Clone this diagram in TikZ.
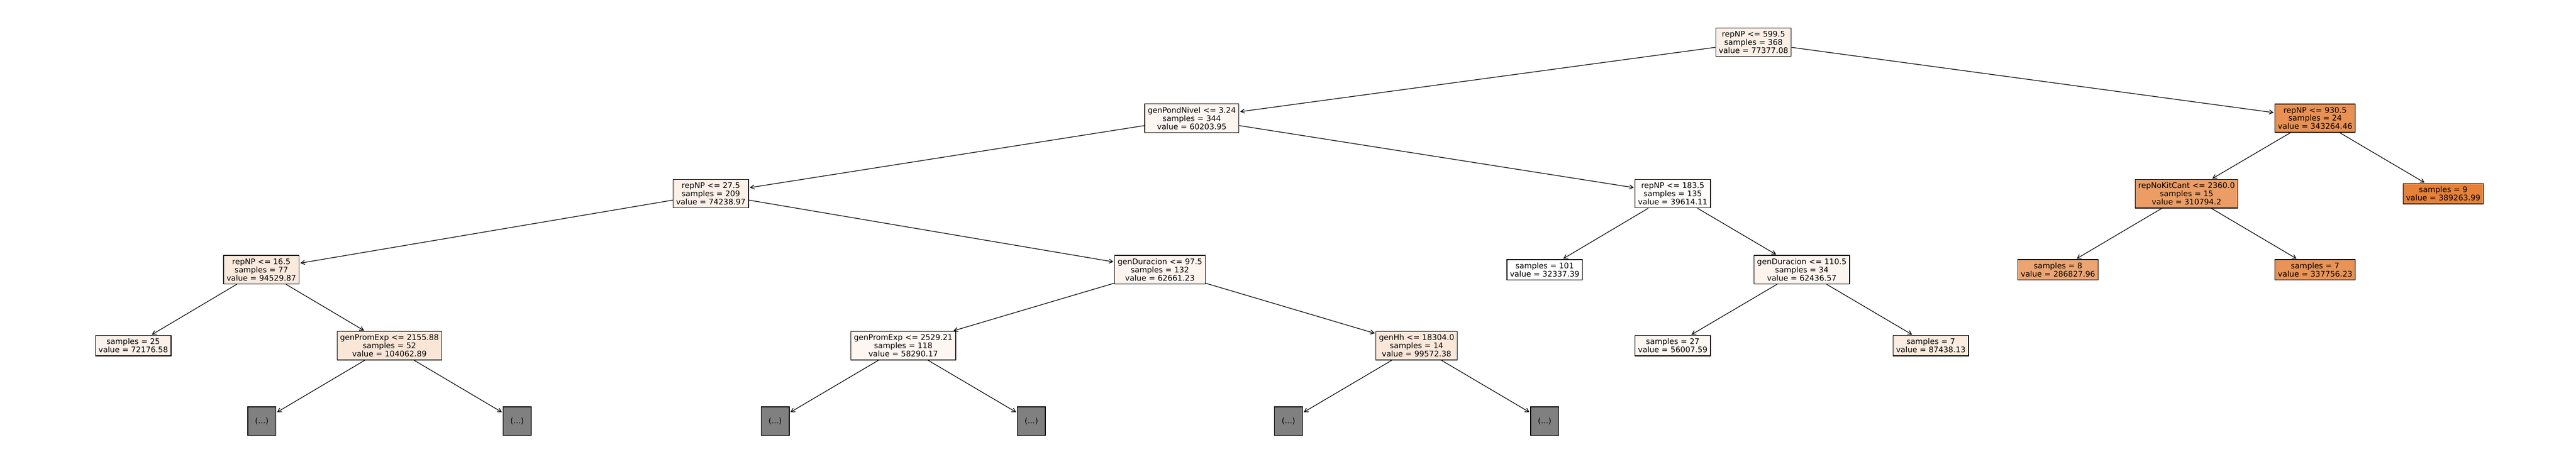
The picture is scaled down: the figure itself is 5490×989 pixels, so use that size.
\documentclass[tikz,border=0pt]{standalone}
\usepackage{fontspec}
\setmainfont{DejaVu Sans}
\usepackage{xcolor}
\usetikzlibrary{arrows.meta}

\begin{document}
\begin{tikzpicture}[x=0.5pt,y=0.5pt,yscale=-1,xscale=1,
  box/.style={draw, line width=0.75pt, align=center, inner xsep=3.2pt, inner ysep=3.3pt,
    font=\fontsize{8.25}{8.75}\selectfont},
  hidden/.style={draw, line width=0.75pt, fill={rgb, 255:red, 128; green, 128; blue, 128 },
    minimum width=30pt, minimum height=30.5pt, inner sep=0pt, font=\fontsize{8.25}{8.75}\selectfont},
  edge/.style={line width=0.7pt, -{Straight Barb[length=4pt,width=4.5pt]}, shorten >=1pt}]
\useasboundingbox (0,0) rectangle (5490,989);

% Text Node
\node [box, fill={rgb, 255:red, 252; green, 239; blue, 230 }] (root) at (3737,90) {repNP <= 599.5\\samples = 368\\value = 77377.08};
% Text Node
\node [box, fill={rgb, 255:red, 253; green, 245; blue, 240 }] (gpn) at (2540,252) {genPondNivel <= 3.24\\samples = 344\\value = 60203.95};
% Text Node
\node [box, fill={rgb, 255:red, 232; green, 145; blue, 83 }] (r930) at (4934,252) {repNP <= 930.5\\samples = 24\\value = 343264.46};
% Text Node
\node [box, fill={rgb, 255:red, 252; green, 240; blue, 232 }] (r275) at (1515,413) {repNP <= 27.5\\samples = 209\\value = 74238.97};
% Text Node
\node [box, fill={rgb, 255:red, 254; green, 252; blue, 251 }] (r1835) at (3565,413) {repNP <= 183.5\\samples = 135\\value = 39614.11};
% Text Node
\node [box, fill={rgb, 255:red, 235; green, 157; blue, 101 }] (rkit) at (4660,413) {repNoKitCant <= 2360.0\\samples = 15\\value = 310794.2};
% Text Node
\node [box, fill={rgb, 255:red, 229; green, 129; blue, 57 }] (lf9) at (5207,413) {samples = 9\\value = 389263.99};
% Text Node
\node [box, fill={rgb, 255:red, 250; green, 233; blue, 221 }] (r165) at (557,575) {repNP <= 16.5\\samples = 77\\value = 94529.87};
% Text Node
\node [box, fill={rgb, 255:red, 253; green, 244; blue, 238 }] (gd975) at (2472,575) {genDuracion <= 97.5\\samples = 132\\value = 62661.23};
% Text Node
\node [box, fill={rgb, 255:red, 255; green, 255; blue, 255 }] (lf101) at (3292,575) {samples = 101\\value = 32337.39};
% Text Node
\node [box, fill={rgb, 255:red, 253; green, 244; blue, 238 }] (gd1105) at (3840,575) {genDuracion <= 110.5\\samples = 34\\value = 62436.57};
% Text Node
\node [box, fill={rgb, 255:red, 236; green, 165; blue, 114 }] (lf8) at (4386,575) {samples = 8\\value = 286827.96};
% Text Node
\node [box, fill={rgb, 255:red, 233; green, 147; blue, 86 }] (lf7) at (4934,575) {samples = 7\\value = 337756.23};
% Text Node
\node [box, fill={rgb, 255:red, 252; green, 241; blue, 233 }] (lf25) at (284,737) {samples = 25\\value = 72176.58};
% Text Node
\node [box, fill={rgb, 255:red, 250; green, 230; blue, 215 }] (gpe2155) at (830,737) {genPromExp <= 2155.88\\samples = 52\\value = 104062.89};
% Text Node
\node [box, fill={rgb, 255:red, 253; green, 246; blue, 241 }] (gpe2529) at (1925,737) {genPromExp <= 2529.21\\samples = 118\\value = 58290.17};
% Text Node
\node [box, fill={rgb, 255:red, 250; green, 231; blue, 218 }] (ghh) at (3019,737) {genHh <= 18304.0\\samples = 14\\value = 99572.38};
% Text Node
\node [box, fill={rgb, 255:red, 253; green, 247; blue, 242 }] (lf27) at (3565,737) {samples = 27\\value = 56007.59};
% Text Node
\node [box, fill={rgb, 255:red, 251; green, 236; blue, 224 }] (lf7b) at (4115,737) {samples = 7\\value = 87438.13};
% Shape: Square
\node [hidden] (g1) at (558,898) {(...)};
\node [hidden] (g2) at (1102,898) {(...)};
\node [hidden] (g3) at (1652,898) {(...)};
\node [hidden] (g4) at (2198,898) {(...)};
\node [hidden] (g5) at (2746,898) {(...)};
\node [hidden] (g6) at (3292,898) {(...)};

%Straight Lines
\draw [edge] (root) -- (gpn);
\draw [edge] (root) -- (r930);
\draw [edge] (gpn) -- (r275);
\draw [edge] (gpn) -- (r1835);
\draw [edge] (r930) -- (rkit);
\draw [edge] (r930) -- (lf9);
\draw [edge] (r275) -- (r165);
\draw [edge] (r275) -- (gd975);
\draw [edge] (r1835) -- (lf101);
\draw [edge] (r1835) -- (gd1105);
\draw [edge] (rkit) -- (lf8);
\draw [edge] (rkit) -- (lf7);
\draw [edge] (r165) -- (lf25);
\draw [edge] (r165) -- (gpe2155);
\draw [edge] (gd975) -- (gpe2529);
\draw [edge] (gd975) -- (ghh);
\draw [edge] (gd1105) -- (lf27);
\draw [edge] (gd1105) -- (lf7b);
\draw [edge] (gpe2155) -- (g1);
\draw [edge] (gpe2155) -- (g2);
\draw [edge] (gpe2529) -- (g3);
\draw [edge] (gpe2529) -- (g4);
\draw [edge] (ghh) -- (g5);
\draw [edge] (ghh) -- (g6);

\end{tikzpicture}
\end{document}
